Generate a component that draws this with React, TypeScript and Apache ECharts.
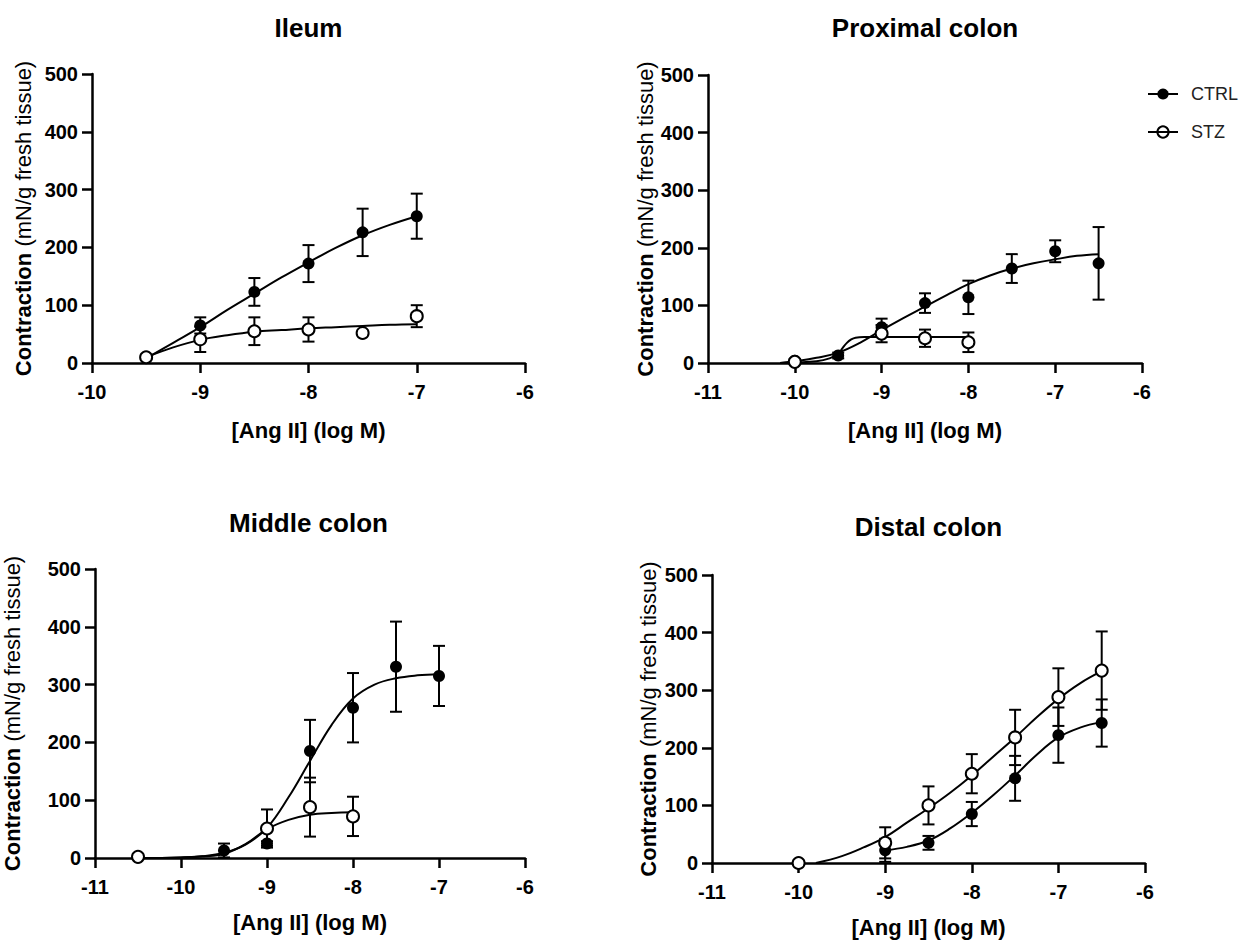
import React, { useEffect, useRef } from "react";
import * as echarts from "echarts";

const FONT = "'Liberation Sans', Arial, Helvetica, sans-serif";
const X_TITLE = "[Ang II] (log M)";
const Y_TITLE_BOLD = "Contraction";
const Y_TITLE_REST = " (mN/g fresh tissue)";
const PANEL_TITLES = ["Ileum", "Proximal colon", "Middle colon", "Distal colon"];
const X_MIN = [-10, -11, -11, -11];
const X_MAX = -6;
const Y_MIN = 0;
const Y_MAX = 500;
const Y_STEP = 100;
const LEGEND_NAMES = ["CTRL", "STZ"];

// ---------- Ileum ----------
const ileumCtrlX = [-9.5, -9, -8.5, -8, -7.5, -7];
const ileumCtrlY = [10, 65, 123, 172, 226, 254];
const ileumCtrlSem = [3, 14, 24, 32, 41, 39];
const ileumStzX = [-9.5, -9, -8.5, -8, -7.5, -7];
const ileumStzY = [10, 41, 55, 58, 52, 81];
const ileumStzSem = [3, 22, 24, 21, 0, 19];
const ileumCtrlFitX = [-9.5, -9.25, -9, -8.75, -8.5, -8.25, -8, -7.75, -7.5, -7.25, -7];
const ileumCtrlFitY = [8, 35, 62, 92, 120, 148, 174, 199, 221, 239, 254];
const ileumStzFitX = [-9.5, -9.25, -9, -8.75, -8.5, -8.25, -8, -7.75, -7.5, -7.25, -7];
const ileumStzFitY = [10, 27, 40, 48, 54, 57, 60, 62, 64, 66, 67];

// ---------- Proximal colon ----------
const proxCtrlX = [-10, -9.5, -9, -8.5, -8, -7.5, -7, -6.5];
const proxCtrlY = [4, 13, 62, 104, 114, 164, 194, 173];
const proxCtrlSem = [3, 5, 15, 17, 29, 25, 19, 63];
const proxStzX = [-10, -9, -8.5, -8];
const proxStzY = [2, 51, 43, 36];
const proxStzSem = [2, 15, 15, 17];
const proxCtrlFitX = [-10.17, -10, -9.75, -9.5, -9.25, -9, -8.75, -8.5, -8.25, -8, -7.75, -7.5, -7.25, -7, -6.75, -6.5];
const proxCtrlFitY = [0, 3, 9, 18, 35, 57, 78, 98, 118, 137, 152, 164, 173, 180, 186, 189];
const proxStzFitX = [-10.17, -10, -9.75, -9.6, -9.5, -9.45, -9.4, -9.35, -9.3, -9.2, -9, -8.5, -8];
const proxStzFitY = [0, 1, 3, 8, 16, 26, 35, 41, 44, 45, 45, 45, 45];

// ---------- Middle colon ----------
const midCtrlX = [-9.5, -9, -8.5, -8, -7.5, -7];
const midCtrlY = [13, 25, 185, 260, 331, 315];
const midCtrlSem = [12, 4, 54, 60, 78, 52];
const midStzX = [-10.5, -9, -8.5, -8];
const midStzY = [2, 51, 88, 72];
const midStzSem = [1, 33, 51, 34];
const midCtrlFitX = [-10.5, -10, -9.75, -9.5, -9.25, -9, -8.75, -8.5, -8.25, -8, -7.75, -7.5, -7.25, -7];
const midCtrlFitY = [0, 1, 3, 9, 23, 52, 105, 168, 230, 276, 300, 311, 316, 318];
const midStzFitX = [-10.5, -10, -9.75, -9.5, -9.25, -9, -8.75, -8.5, -8.25, -8];
const midStzFitY = [0, 1, 3, 7, 24, 50, 66, 75, 78, 79];

// ---------- Distal colon ----------
const distCtrlX = [-9, -8.5, -8, -7.5, -7, -6.5];
const distCtrlY = [22, 35, 85, 147, 222, 243];
const distCtrlSem = [20, 12, 21, 39, 48, 41];
const distStzX = [-10, -9, -8.5, -8, -7.5, -7, -6.5];
const distStzY = [0, 35, 100, 155, 218, 288, 334];
const distStzSem = [1, 27, 33, 34, 48, 50, 68];
const distCtrlFitX = [-9, -8.75, -8.5, -8.25, -8, -7.75, -7.5, -7.25, -7, -6.75, -6.5];
const distCtrlFitY = [22, 28, 39, 60, 87, 118, 152, 188, 218, 235, 245];
const distStzFitX = [-9.8, -9.5, -9.25, -9, -8.75, -8.5, -8.25, -8, -7.75, -7.5, -7.25, -7, -6.75, -6.5];
const distStzFitY = [0, 12, 27, 45, 70, 95, 122, 152, 185, 218, 253, 285, 312, 333];

const zip = (xs: number[], ys: number[]) => xs.map((x, i) => [x, ys[i]]);
const errs = (xs: number[], ys: number[], es: number[]) =>
  xs.map((x, i) => [x, ys[i] - es[i], ys[i] + es[i]]).filter((_, i) => es[i] > 0);

const panels = [
  {
    ctrl: { x: ileumCtrlX, y: ileumCtrlY, e: ileumCtrlSem, fx: ileumCtrlFitX, fy: ileumCtrlFitY },
    stz: { x: ileumStzX, y: ileumStzY, e: ileumStzSem, fx: ileumStzFitX, fy: ileumStzFitY },
  },
  {
    ctrl: { x: proxCtrlX, y: proxCtrlY, e: proxCtrlSem, fx: proxCtrlFitX, fy: proxCtrlFitY },
    stz: { x: proxStzX, y: proxStzY, e: proxStzSem, fx: proxStzFitX, fy: proxStzFitY },
  },
  {
    ctrl: { x: midCtrlX, y: midCtrlY, e: midCtrlSem, fx: midCtrlFitX, fy: midCtrlFitY },
    stz: { x: midStzX, y: midStzY, e: midStzSem, fx: midStzFitX, fy: midStzFitY },
  },
  {
    ctrl: { x: distCtrlX, y: distCtrlY, e: distCtrlSem, fx: distCtrlFitX, fy: distCtrlFitY },
    stz: { x: distStzX, y: distStzY, e: distStzSem, fx: distStzFitX, fy: distStzFitY },
  },
];

// layout (pixels)
const GRIDS = [
  { left: 92, top: 74, width: 433, height: 289 },
  { left: 708, top: 75, width: 434, height: 288 },
  { left: 92, top: 569, width: 433, height: 289 },
  { left: 712, top: 575, width: 433, height: 288 },
];
const Y_NAME_GAP = [58, 51, 72, 53];
const X_NAME_GAP = [56, 56, 53, 53];
const TITLE_Y = [28, 28, 523, 527];

const errorBarRender = (params: any, api: any) => {
  const x = api.value(0);
  const lo = api.coord([x, api.value(1)]);
  const hi = api.coord([x, api.value(2)]);
  const hw = 6;
  const st = { stroke: "#000", lineWidth: 2 };
  return {
    type: "group",
    children: [
      { type: "line", shape: { x1: lo[0], y1: lo[1], x2: hi[0], y2: hi[1] }, style: st },
      { type: "line", shape: { x1: lo[0] - hw, y1: lo[1], x2: lo[0] + hw, y2: lo[1] }, style: st },
      { type: "line", shape: { x1: hi[0] - hw, y1: hi[1], x2: hi[0] + hw, y2: hi[1] }, style: st },
    ],
  };
};

function buildOption() {
  const axisLine = { show: true, onZero: false, lineStyle: { color: "#000", width: 2.5 } };
  const axisTick = { show: true, length: 10, lineStyle: { color: "#000", width: 2.5 } };
  const tickLabel = { color: "#000", fontWeight: "bold", fontSize: 20, fontFamily: FONT };

  const xAxis = panels.map((_, i) => ({
    gridIndex: i,
    type: "value",
    min: X_MIN[i],
    max: X_MAX,
    interval: 1,
    axisLine,
    axisTick,
    axisLabel: { ...tickLabel, margin: 19 },
    splitLine: { show: false },
    name: X_TITLE,
    nameLocation: "middle",
    nameGap: X_NAME_GAP[i],
    nameTextStyle: { color: "#000", fontWeight: "bold", fontSize: 22, fontFamily: FONT },
  }));
  const yAxis = panels.map((_, i) => ({
    gridIndex: i,
    type: "value",
    min: Y_MIN,
    max: Y_MAX,
    interval: Y_STEP,
    axisLine,
    axisTick,
    axisLabel: { ...tickLabel, margin: 14 },
    splitLine: { show: false },
    name: `{b|${Y_TITLE_BOLD}}{n|${Y_TITLE_REST}}`,
    nameLocation: "middle",
    nameGap: Y_NAME_GAP[i],
    nameTextStyle: {
      rich: {
        b: { color: "#000", fontWeight: "bold", fontSize: 22, fontFamily: FONT },
        n: { color: "#000", fontWeight: "normal", fontSize: 22, fontFamily: FONT },
      },
    },
  }));

  const fits: any[] = [];
  const bars: any[] = [];
  const marks: any[] = [];
  panels.forEach((p, i) => {
    (["ctrl", "stz"] as const).forEach((k) => {
      const d = (p as any)[k];
      const name = k === "ctrl" ? LEGEND_NAMES[0] : LEGEND_NAMES[1];
      const open = k === "stz";
      fits.push({
        type: "line",
        name,
        xAxisIndex: i,
        yAxisIndex: i,
        data: zip(d.fx, d.fy),
        smooth: 0.4,
        showSymbol: false,
        symbol: "circle",
        symbolSize: 12,
        lineStyle: { color: "#000", width: 2 },
        itemStyle: open
          ? { color: "#fff", borderColor: "#000", borderWidth: 2 }
          : { color: "#000", borderColor: "#000", borderWidth: 0 },
        z: 3,
        silent: true,
      });
      bars.push({
        type: "custom",
        name,
        xAxisIndex: i,
        yAxisIndex: i,
        renderItem: errorBarRender,
        encode: { x: 0, y: [1, 2] },
        data: errs(d.x, d.y, d.e),
        z: 2,
        silent: true,
      });
      marks.push({
        type: "scatter",
        name,
        xAxisIndex: i,
        yAxisIndex: i,
        data: zip(d.x, d.y),
        symbol: "circle",
        symbolSize: 12,
        itemStyle: open
          ? { color: "#fff", borderColor: "#000", borderWidth: 2, opacity: 1 }
          : { color: "#000", opacity: 1 },
        z: open ? 5 : 4,
        silent: true,
      });
    });
  });

  const graphic = PANEL_TITLES.map((t, i) => ({
    type: "text",
    x: GRIDS[i].left + GRIDS[i].width / 2,
    y: TITLE_Y[i],
    style: {
      text: t,
      fill: "#000",
      font: `bold 26px ${FONT}`,
      align: "center",
      verticalAlign: "middle",
    },
  }));

  return {
    animation: false,
    backgroundColor: "#fff",
    grid: GRIDS.map((g) => ({ ...g, containLabel: false })),
    xAxis,
    yAxis,
    legend: {
      data: [
        { name: LEGEND_NAMES[0] },
        { name: LEGEND_NAMES[1], itemStyle: { color: "rgba(0,0,0,0)", borderColor: "#000", borderWidth: 2 } },
      ],
      orient: "vertical",
      left: 1142,
      top: 80,
      itemWidth: 30,
      itemHeight: 14,
      itemGap: 20,
      selectedMode: false,
      textStyle: { color: "#222", fontSize: 18, fontFamily: FONT, padding: [0, 0, 0, 8] },
    },
    graphic,
    series: [...fits, ...bars, ...marks],
  };
}

export default function App() {
  const ref = useRef<HTMLDivElement>(null);
  useEffect(() => {
    if (!ref.current) return;
    const chart = echarts.init(ref.current, undefined, { renderer: "svg" });
    chart.setOption(buildOption() as any);
    return () => chart.dispose();
  }, []);
  return (
    <div
      ref={ref}
      style={{ position: "fixed", left: 0, top: 0, width: 1249, height: 940, background: "#fff" }}
    />
  );
}
